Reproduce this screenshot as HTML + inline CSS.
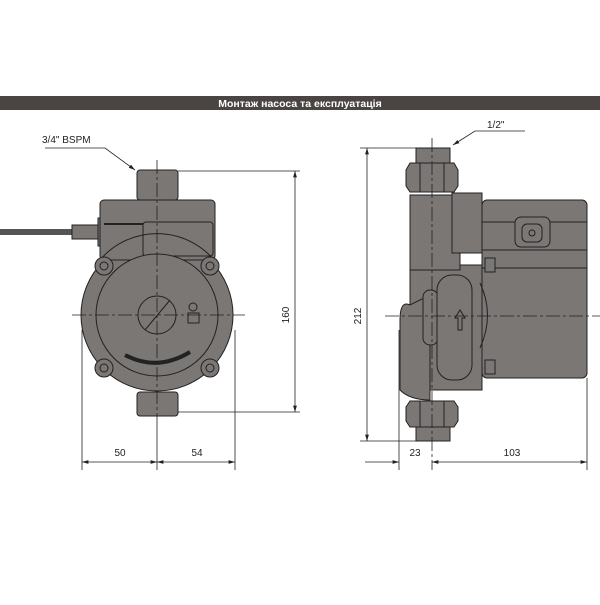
<!DOCTYPE html>
<html><head><meta charset="utf-8"><style>
body{margin:0;background:#fff;width:600px;height:600px;overflow:hidden;font-family:"Liberation Sans",sans-serif}
</style></head><body>
<svg width="600" height="600" viewBox="0 0 600 600" xmlns="http://www.w3.org/2000/svg" font-family="Liberation Sans, sans-serif">
<defs><marker id="a" viewBox="0 0 10 10" refX="10" refY="5" markerWidth="8" markerHeight="8" orient="auto-start-reverse"><path d="M0,2 L10,5 L0,8z" fill="#222"/></marker></defs>
<rect x="0" y="96" width="600" height="14" fill="#4a4543"/>
<text x="300" y="107" fill="#fff" font-size="10.5" font-weight="bold" text-anchor="middle">Монтаж насоса та експлуатація</text>
<g stroke="#222" stroke-width="1" fill="#7a7775">
<!-- left pump -->
<line x1="0" y1="232" x2="72" y2="232" stroke-width="6" stroke="#555"/>
<rect x="72" y="225" width="26" height="14"/>
<rect x="98" y="218" width="6" height="28"/>
<rect x="137" y="170" width="41" height="30" rx="3"/>
<circle cx="157" cy="315" r="76"/>
<rect x="100" y="200" width="115" height="60" rx="4"/>
<rect x="143" y="222" width="70" height="34" rx="3"/>
<line x1="104" y1="224" x2="143" y2="224" stroke-width="2"/>
<circle cx="157" cy="315" r="61"/>
<path d="M96,265 A75,75 0 0 1 218,265" fill="none"/>
<circle cx="104" cy="266" r="9"/><circle cx="104" cy="266" r="4"/>
<circle cx="210" cy="266" r="9"/><circle cx="210" cy="266" r="4"/>
<circle cx="104" cy="368" r="9"/><circle cx="104" cy="368" r="4"/>
<circle cx="210" cy="368" r="9"/><circle cx="210" cy="368" r="4"/>
<circle cx="157" cy="315" r="19"/>
<line x1="145" y1="330" x2="170" y2="300"/>
<rect x="188" y="313" width="11" height="10"/><circle cx="193" cy="307" r="4"/>
<path d="M125,355 Q157,372 190,352" fill="none" stroke-width="4"/>
<rect x="137" y="392" width="41" height="24" rx="3"/>
<!-- right pump -->
<rect x="482" y="200" width="105" height="178" rx="5"/>
<line x1="482" y1="222" x2="587" y2="222"/>
<line x1="482" y1="250" x2="587" y2="250"/>
<line x1="482" y1="268" x2="587" y2="268"/>
<rect x="515" y="217" width="35" height="30" rx="6"/>
<rect x="522" y="224" width="20" height="18" rx="5"/><circle cx="532" cy="233" r="3"/>
<rect x="410" y="265" width="72" height="125"/>
<rect x="410" y="195" width="50" height="75"/>
<rect x="452" y="193" width="30" height="60"/>
<path d="M410,305 Q400,300 400,320 L400,390 Q410,400 430,400 L430,295z"/>
<rect x="423" y="290" width="15" height="55" rx="7"/>
<rect x="437" y="275" width="35" height="105" rx="15"/>
<path d="M455,318 L460,310 L465,318 L462,318 L462,330 L458,330 L458,318z"/>
<path d="M480,283 Q495,315 480,348" fill="none"/>
<rect x="485" y="258" width="10" height="14"/><rect x="485" y="360" width="10" height="14"/>
<rect x="416" y="148" width="34" height="17"/>
<path d="M406,170 L410,163 L454,163 L458,170 L458,186 L454,192 L410,192 L406,186z"/>
<line x1="420" y1="163" x2="420" y2="192"/><line x1="444" y1="163" x2="444" y2="192"/>
<path d="M406,407 L410,401 L454,401 L458,407 L458,421 L454,427 L410,427 L406,421z"/>
<line x1="420" y1="401" x2="420" y2="427"/><line x1="444" y1="401" x2="444" y2="427"/>
<rect x="416" y="427" width="34" height="14"/>
</g>
<g stroke="#222" stroke-width="0.8" fill="none">
<!-- centerlines -->
<line x1="157" y1="160" x2="157" y2="425" stroke-dasharray="14,3,3,3"/>
<line x1="72" y1="315" x2="245" y2="315" stroke-dasharray="14,3,3,3"/>
<line x1="432" y1="138" x2="432" y2="470" stroke-dasharray="14,3,3,3"/>
<line x1="385" y1="316" x2="600" y2="316" stroke-dasharray="14,3,3,3"/>
<!-- left dims -->
<line x1="178" y1="171" x2="300" y2="171"/>
<line x1="178" y1="412" x2="300" y2="412"/>
<line x1="295" y1="171" x2="295" y2="412" marker-start="url(#a)" marker-end="url(#a)"/>
<line x1="82" y1="330" x2="82" y2="470"/><line x1="235" y1="330" x2="235" y2="470"/>
<line x1="157" y1="425" x2="157" y2="470"/>
<line x1="82" y1="462" x2="157" y2="462" marker-start="url(#a)" marker-end="url(#a)"/>
<line x1="157" y1="462" x2="235" y2="462" marker-start="url(#a)" marker-end="url(#a)"/>
<polyline points="45,148 105,148 135,170" marker-end="url(#a)"/>
<!-- right dims -->
<line x1="360" y1="148" x2="416" y2="148"/>
<line x1="360" y1="441" x2="416" y2="441"/>
<line x1="367" y1="148" x2="367" y2="441" marker-start="url(#a)" marker-end="url(#a)"/>
<line x1="399" y1="330" x2="399" y2="470"/><line x1="587" y1="378" x2="587" y2="470"/>
<line x1="365" y1="462" x2="399" y2="462" marker-end="url(#a)"/>
<line x1="432" y1="462" x2="587" y2="462" marker-start="url(#a)" marker-end="url(#a)"/>
<polyline points="525,131 475,131 453,145" marker-end="url(#a)"/>
</g>
<g font-size="10" fill="#222">
<text x="42" y="143">3/4" BSPM</text>
<text x="487" y="128">1/2"</text>
<text x="120" y="456" text-anchor="middle">50</text>
<text x="197" y="456" text-anchor="middle">54</text>
<text x="415" y="456" text-anchor="middle">23</text>
<text x="512" y="456" text-anchor="middle">103</text>
<text transform="translate(289,315) rotate(-90)" text-anchor="middle">160</text>
<text transform="translate(361,316) rotate(-90)" text-anchor="middle">212</text>
</g>
</svg>
</body></html>
